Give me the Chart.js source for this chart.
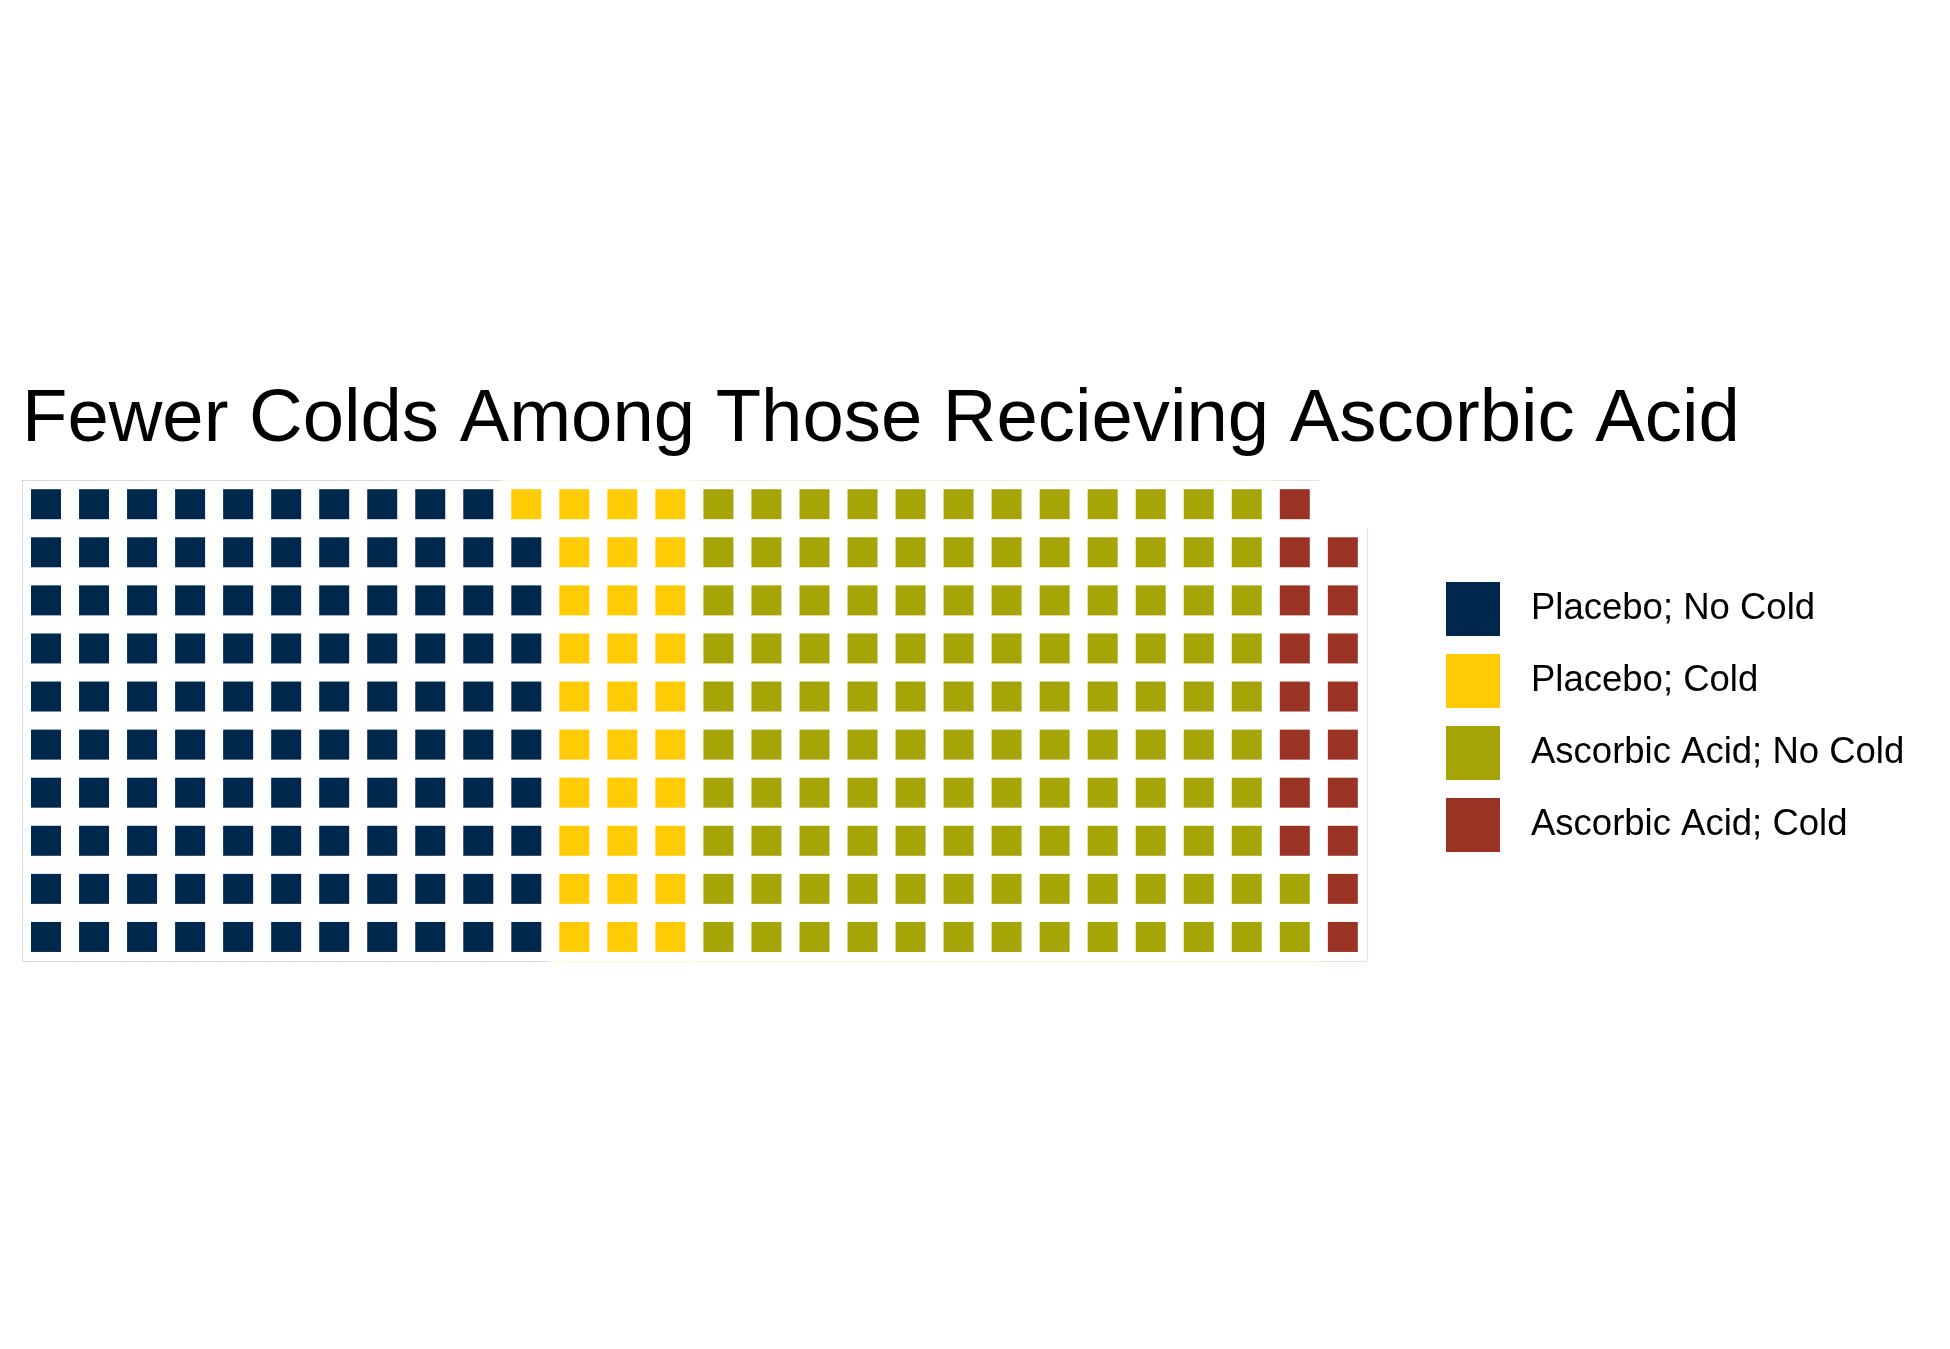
<!DOCTYPE html>
<html>
<head>
<meta charset="utf-8">
<script src="https://cdn.jsdelivr.net/npm/chart.js@4"></script>
<style>
  html, body { margin: 0; padding: 0; background: #ffffff; }
  #wrap { width: 1950px; height: 1349px; }
</style>
</head>
<body>
<div id="wrap"><canvas id="c" width="1950" height="1349"></canvas></div>
<script>
// ---- data ----
const titleText = "Fewer Colds Among Those Recieving Ascorbic Acid";
const categories = ["Placebo; No Cold", "Placebo; Cold", "Ascorbic Acid; No Cold", "Ascorbic Acid; Cold"];
const counts = [109, 31, 122, 17];
const colors = ["#00274C", "#FFCB05", "#A5A508", "#9A3324"];
const rowsPerColumn = 10;

// ---- waffle layout: fill column by column, bottom to top ----
const totalCells = counts.reduce((a, b) => a + b, 0);
const nCols = Math.ceil(totalCells / rowsPerColumn);
let cursor = 0;
const datasets = categories.map((name, k) => {
  const pts = [];
  for (let i = 0; i < counts[k]; i++) {
    pts.push({ x: Math.floor(cursor / rowsPerColumn) + 1, y: (cursor % rowsPerColumn) + 1 });
    cursor++;
  }
  return {
    label: name,
    data: pts,
    backgroundColor: colors[k],
    borderWidth: 0,
    clip: false,
    pointStyle: 'rect',
    pointRadius: 30 / Math.SQRT2,
    pointHoverRadius: 30 / Math.SQRT2
  };
});

function rgba(hex, a) {
  const n = parseInt(hex.slice(1), 16);
  return `rgba(${(n >> 16) & 255},${(n >> 8) & 255},${n & 255},${a})`;
}

function keyImage(color) {
  const cv = document.createElement('canvas');
  cv.width = 54; cv.height = 54;
  const g = cv.getContext('2d');
  g.fillStyle = color;
  g.fillRect(0, 0, 54, 54);
  return cv;
}
const keyImages = colors.map(keyImage);

// faint outer edge of the tile grid
const gridEdge = {
  id: 'gridEdge',
  beforeDatasetsDraw(chart) {
    const { ctx, scales: { x, y } } = chart;
    ctx.save();
    ctx.lineWidth = 1;
    chart.data.datasets.forEach(ds => {
      ctx.strokeStyle = rgba(ds.backgroundColor, 0.16);
      ds.data.forEach(p => {
        const l = Math.round(x.getPixelForValue(p.x - 0.5));
        const r = Math.round(x.getPixelForValue(p.x + 0.5));
        const t = Math.round(y.getPixelForValue(p.y + 0.5));
        const b = Math.round(y.getPixelForValue(p.y - 0.5));
        ctx.beginPath();
        if (p.y === rowsPerColumn) { ctx.moveTo(l, t + 0.5); ctx.lineTo(r, t + 0.5); }
        if (p.y === 1) { ctx.moveTo(l, b + 0.5); ctx.lineTo(r, b + 0.5); }
        if (p.x === 1) { ctx.moveTo(l + 0.5, t); ctx.lineTo(l + 0.5, b); }
        if (p.x === nCols) { ctx.moveTo(r + 0.5, t); ctx.lineTo(r + 0.5, b); }
        ctx.stroke();
      });
    });
    ctx.restore();
  }
};

const FONT = "'Liberation Sans', Arial, Helvetica, sans-serif";
const legendFont = 36.5;
const legendPad = 72 - legendFont;
const keySlot = 80.3;
const legendLeft = 1396.95;

// legend width from its texts (Chart.js adds 10px to a vertical legend) so it starts where the reference's does
const mctx = document.createElement('canvas').getContext('2d');
mctx.font = `${legendFont}px ${FONT}`;
const maxTextW = Math.max(...categories.map(t => mctx.measureText(t).width));
const legendW = legendPad + keySlot + legendFont / 2 + maxTextW + 10;
const rightPad = 1950 - legendLeft - legendW;

new Chart(document.getElementById('c'), {
  type: 'scatter',
  data: { datasets },
  plugins: [gridEdge],
  options: {
    responsive: false,
    animation: false,
    events: [],
    layout: { padding: { left: 22, right: rightPad, top: 376, bottom: 395.6 } },
    scales: {
      x: { type: 'linear', display: false, min: 0.5, max: 29.127 },
      y: { type: 'linear', display: false, min: 0.658, max: 10.5 }
    },
    plugins: {
      tooltip: { enabled: false },
      title: {
        display: true,
        text: titleText,
        align: 'start',
        color: '#000000',
        font: { family: FONT, size: 74.3, weight: 'normal', lineHeight: 1.2 },
        padding: { top: 0, bottom: 15 }
      },
      legend: {
        display: true,
        position: 'right',
        align: 'center',
        fullSize: false,
        labels: {
          color: '#000000',
          font: { family: FONT, size: legendFont },
          usePointStyle: true,
          pointStyleWidth: keySlot,
          padding: legendPad,
          generateLabels(chart) {
            const items = Chart.defaults.plugins.legend.labels.generateLabels(chart);
            items.forEach((it, i) => { it.pointStyle = keyImages[i]; it.lineWidth = 0; });
            return items;
          }
        }
      }
    }
  }
});
</script>
</body>
</html>
